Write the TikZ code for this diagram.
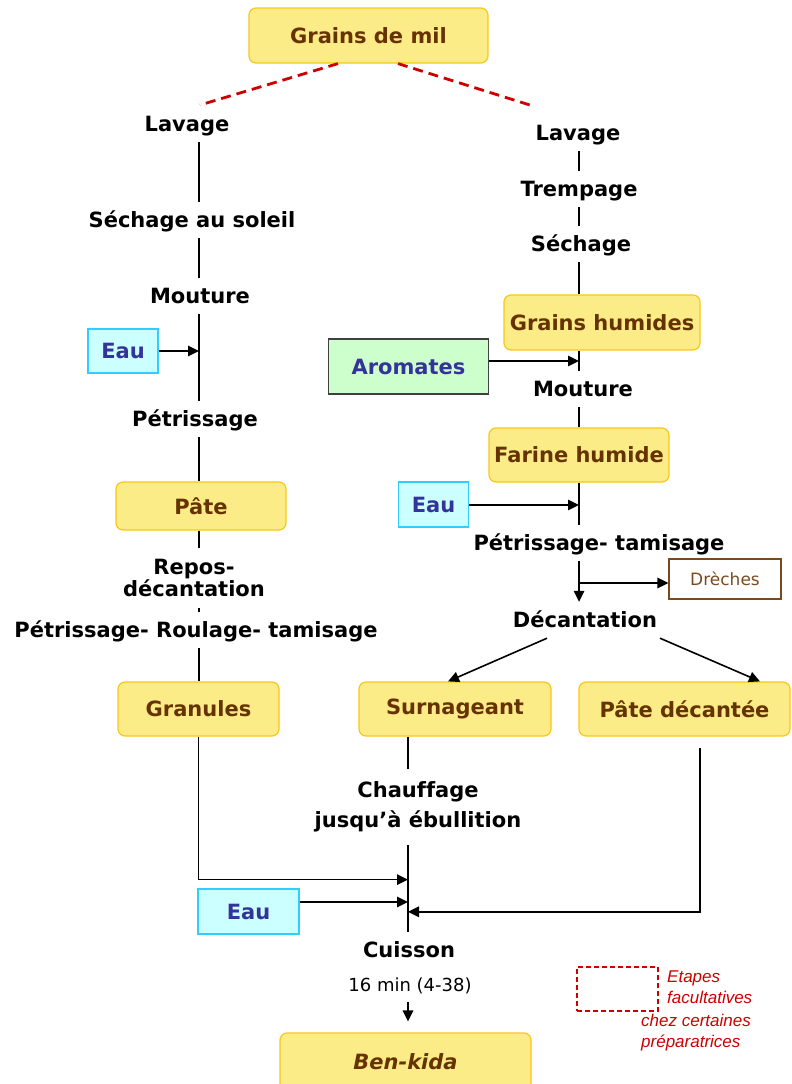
\documentclass[tikz,border=0pt]{standalone}
\usepackage{fontspec}
\setmainfont[Ligatures=NoCommon]{DejaVu Sans}
\newfontfamily\legendfont{Liberation Sans}
\usetikzlibrary{arrows.meta,calc}

\definecolor{prodfill}{HTML}{FCEC88}
\definecolor{prodline}{HTML}{F7C81A}
\definecolor{prodtext}{HTML}{663300}
\definecolor{eaufill}{HTML}{CCFFFF}
\definecolor{eauline}{HTML}{33CCFF}
\definecolor{eautext}{HTML}{333399}
\definecolor{aromfill}{HTML}{CCFFCC}
\definecolor{wastecol}{HTML}{7A4A1E}
\definecolor{optred}{HTML}{CC0000}

\newcommand{\stepfont}{\fontsize{21}{24}\selectfont\bfseries}

\tikzset{
  stepnode/.style={font=\stepfont, text height=16pt, text depth=2pt,
    inner xsep=2pt, inner ysep=9pt},
  multistep/.style={font=\stepfont, align=center, inner sep=0pt},
  prodbox/.style={rounded corners=7pt, fill=prodfill, draw=prodline,
    line width=1.2pt, text=prodtext, font=\stepfont, inner sep=0pt},
  eaubox/.style={fill=eaufill, draw=eauline, line width=1.2pt, text=eautext,
    font=\stepfont, inner sep=0pt},
  aromebox/.style={fill=aromfill, draw=black!75, line width=1.2pt, text=eautext,
    font=\stepfont, inner sep=0pt},
  wastebox/.style={draw=wastecol, line width=1.2pt, text=wastecol,
    font=\fontsize{17}{20}\selectfont, inner sep=0pt},
  link/.style={line width=1.6pt, black},
  feed/.style={link, -{Triangle[length=11pt,width=10.5pt]}},
  optional/.style={optred, line width=2.8pt, dash pattern=on 10pt off 6pt},
  legendtext/.style={text=optred, align=left, inner sep=0pt,
    font=\legendfont\itshape\fontsize{17}{21.5}\selectfont}
}

\begin{document}
\begin{tikzpicture}[x=1pt,y=-1pt]
\useasboundingbox (0,0) rectangle (792,1084);

% column axes
\coordinate (L) at (199,0);
\coordinate (M) at (408,0);
\coordinate (R) at (579,0);

% raw material
\node[prodbox, minimum width=239pt, minimum height=55pt] (gdm) at (368.5,35.5) {Grains de mil};
\coordinate (dl) at (200,105);
\coordinate (dr) at (533,106);

% left process: granules
\node[stepnode] (lav1) at (187,124) {Lavage};
\node[stepnode] (sech1) at (192,220) {Séchage au soleil};
\node[stepnode] (mout1) at (200,296) {Mouture};
\node[eaubox, minimum width=70pt, minimum height=44pt] (eau1) at (123,351) {Eau};
\node[stepnode] (petr1) at (195,419) {Pétrissage};
\node[prodbox, minimum width=170pt, minimum height=48pt] (pate) at (201,506) {Pâte};
\node[multistep, font=\fontsize{21}{22}\selectfont\bfseries, minimum height=60pt] (repos) at (194,578) {Repos-\\décantation};
\node[stepnode] (prt) at (196,630) {Pétrissage- Roulage- tamisage};
\node[prodbox, minimum width=161pt, minimum height=54pt] (gran) at (198.5,709) {Granules};

% right process: decanted paste
\node[stepnode] (lav2) at (578,133) {Lavage};
\node[stepnode] (trem) at (579,189) {Trempage};
\node[stepnode] (sech2) at (581,244) {Séchage};
\node[prodbox, minimum width=196pt, minimum height=55pt] (gh) at (602,322.5) {Grains humides};
\node[aromebox, minimum width=160pt, minimum height=55pt] (arom) at (408.5,366.5) {Aromates};
\node[stepnode] (mout2) at (583,389) {Mouture};
\node[prodbox, minimum width=180pt, minimum height=54pt] (fh) at (579,455) {Farine humide};
\node[eaubox, minimum width=70pt, minimum height=45pt] (eau2) at (433.5,504.5) {Eau};
\node[stepnode] (petr2) at (599,543) {Pétrissage- tamisage};
\node[wastebox, minimum width=112pt, minimum height=40pt] (dre) at (725,579) {Drèches};
\node[stepnode] (dec) at (585,620) {Décantation};
\node[prodbox, minimum width=192pt, minimum height=54pt] (surn) at (455,709) {Surnageant};
\node[prodbox, minimum width=211pt, minimum height=54pt] (pdc) at (684.5,709) {Pâte décantée};

% cooking
\node[multistep, font=\fontsize{21}{30}\selectfont\bfseries, minimum height=76pt] (chauf) at (418,807) {Chauffage\\jusqu'à ébullition};
\node[eaubox, minimum width=101pt, minimum height=45pt] (eau3) at (248.5,911.5) {Eau};
\node[stepnode] (cuis) at (409,950) {Cuisson};
\node[stepnode, font=\fontsize{18}{22}\selectfont] (dur) at (410,984) {16 min (4-38)};
\node[prodbox, minimum width=251pt, minimum height=58pt, font=\stepfont\itshape] (ben) at (405.5,1062) {Ben-kida};

% legend
\node[draw=optred, line width=1.1pt, dash pattern=on 5pt off 3pt, minimum width=81pt, minimum height=44pt, inner sep=0pt] (legbox) at (617.5,989) {};
\node[legendtext, anchor=west] (leg1) at (667,987) {Etapes\\facultatives};
\node[legendtext, anchor=west] (leg2) at (641,1032.5) {chez certaines\\préparatrices};

% optional branches from the raw material
\draw[optional] ([xshift=-30.5pt]gdm.south) -- (dl);
\draw[optional] ([xshift=29.5pt]gdm.south) -- (dr);

% left chain
\draw[link] (lav1.south -| L) -- (sech1.north -| L);
\draw[link] (sech1.south -| L) -- (mout1.north -| L);
\draw[link] (mout1.south -| L) -- (petr1.north -| L);
\draw[feed] (eau1.east) -- (eau1.east -| L);
\draw[link] (petr1.south -| L) -- (pate.north -| L);
\draw[link] (pate.south -| L) -- (repos.north -| L);
\draw[link] (repos.south -| L) -- (prt.north -| L);
\draw[link] (prt.south -| L) -- (gran.north -| L);
\draw[feed] (gran.south) -- ++(0,143) coordinate (grancorner) -- (grancorner -| M);

% right chain
\draw[link] (lav2.south -| R) -- (trem.north -| R);
\draw[link] (trem.south -| R) -- (sech2.north -| R);
\draw[link] (sech2.south -| R) -- (gh.north -| R);
\draw[link] (gh.south -| R) -- (mout2.north -| R);
\draw[feed] ([yshift=5.5pt]arom.east) -- ([yshift=5.5pt]arom.east -| R);
\draw[link] (mout2.south -| R) -- (fh.north -| R);
\draw[link] (fh.south -| R) -- (petr2.north -| R);
\draw[feed] ([yshift=-0.5pt]eau2.east) -- ([yshift=-0.5pt]eau2.east -| R);
\draw[feed] (petr2.south -| R) -- (dec.north -| R);
\draw[feed] ([yshift=-4pt]dre.west -| R) -- ([yshift=-4pt]dre.west);
\draw[feed] ([xshift=-38pt]dec.south) -- ([xshift=-7pt]surn.north);
\draw[feed] ([xshift=75pt]dec.south) -- ([xshift=75.5pt]pdc.north);

% cooking chain
\draw[link] (surn.south -| M) -- (chauf.north -| M);
\draw[link] (chauf.south -| M) -- (cuis.north -| M);
\draw[feed] ([yshift=9.5pt]eau3.east) -- ([yshift=9.5pt]eau3.east -| M);
\draw[feed] ([xshift=15.5pt,yshift=-11pt]pdc.south) |- ($(cuis.north -| M)+(0,-20)$);
\draw[feed] (dur.south -| M) -- ([yshift=11pt]ben.north -| M);

\end{tikzpicture}
\end{document}
